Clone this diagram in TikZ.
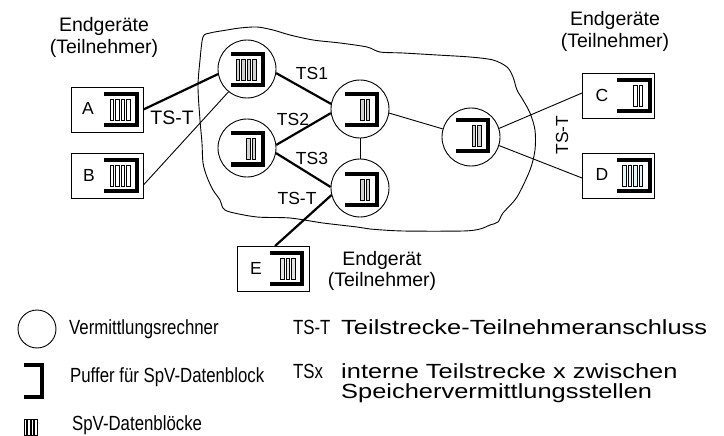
\documentclass[tikz,border=0pt]{standalone}
\usepackage{fontspec}
\setmainfont{Liberation Sans}
\begin{document}
\begin{tikzpicture}[x=1pt,y=-1pt,
  router/.style={circle,draw,line width=0.9pt,minimum size=58pt,inner sep=0pt},
  term/.style={rectangle,draw,line width=0.9pt,minimum width=72pt,minimum height=45pt,inner sep=0pt},
  lbl/.style={inner sep=0pt,font=\fontsize{17.5}{21}\selectfont},
  biglbl/.style={inner sep=0pt,font=\fontsize{19.5}{21.5}\selectfont},
  leglbl/.style={inner sep=0pt,anchor=west,xscale=0.82,font=\fontsize{20.5}{22}\selectfont},
  widelbl/.style={inner sep=0pt,anchor=west,xscale=1.24,font=\fontsize{20.5}{22}\selectfont},
  thicklink/.style={line width=2.2pt},
  thinlink/.style={line width=0.9pt},
  cloudline/.style={line width=0.9pt}]
\useasboundingbox (0,0) rectangle (724,436);
\newcommand\bufr[5]{% x y nbars barfill width
  \draw[line width=4pt,line cap=butt,line join=miter] (#1-#5/2,#2-15.5) -- (#1+#5/2,#2-15.5) -- (#1+#5/2,#2+15.5) -- (#1-#5/2,#2+15.5);
  \foreach \i in {1,...,#3}{\draw[line width=0.6pt,fill=#4] (#1+#5/2-7-\i*5.5+2,#2-10.5) rectangle ++(3.5,21);}
}
% cloud
\draw[cloudline] plot[smooth cycle,tension=0.5] coordinates {
 (203,37) (210,33) (227,30) (240,28) (257,27) (273,30) (290,35) (313,40) (340,43) (367,47)
 (380,52) (403,53) (437,55) (470,57) (493,60) (507,67) (513,77) (517,90) (523,100) (530,113)
 (535,130) (535,150) (530,170) (517,197) (503,213) (498,222) (490,225) (480,229) (463,231)
 (403,231) (370,229) (357,227) (323,223) (290,218) (257,217) (230,212) (223,208) (220,200)
 (213,190) (207,177) (203,163) (202,143) (200,120) (198,87) (200,60)};
% routers
\node[router] (r1) at (247,69) {};
\node[router] (r2) at (247,148) {};
\node[router] (r3) at (360,109) {};
\node[router] (r4) at (360,188) {};
\node[router] (r5) at (471,137) {};
% terminals
\node[term] (A) at (107,109.5) {};
\node[term] (B) at (107,175.5) {};
\node[term] (C) at (618.5,95.5) {};
\node[term] (D) at (618.5,175.5) {};
\node[term] (E) at (273.5,269) {};
\node[lbl] (la) at (88,108) {A};
\node[lbl] (lb) at (89,175) {B};
\node[lbl] (lc) at (602,95) {C};
\node[lbl] (ld) at (602,174) {D};
\node[lbl] (le) at (256,268) {E};
% buffers
\bufr{247}{70}{4}{gray!35}{32}
\bufr{246.5}{149}{2}{gray!35}{32}
\bufr{360.5}{109.5}{2}{gray!35}{32}
\bufr{360.5}{189.5}{2}{gray!35}{32}
\bufr{472}{135.5}{2}{gray!35}{32}
\bufr{120.5}{110}{4}{white}{33}
\bufr{120.5}{175.5}{4}{white}{33}
\bufr{633}{96}{2}{white}{33}
\bufr{633}{175.5}{4}{cyan!12}{33}
\bufr{286}{268.5}{3}{gray!20}{32}
% connectors
\draw[thicklink] (A.east) -- (r1.190);
\draw[thinlink] ([yshift=-9.5pt]B.east) -- (r1.231);
\draw[thicklink] (r1.352) -- (r3.170);
\draw[thicklink] (r2.6) -- (r3.188);
\draw[thicklink] (r2.350) -- (r4.178);
\draw[thinlink] (r3.south) -- (r4.north);
\draw[thicklink] (r4.194) -- ([xshift=1.5pt]E.north);
\draw[thinlink] (r3.352) -- (r5.164);
\draw[thinlink] (r5.17) -- ([yshift=2.5pt]C.west);
\draw[thinlink] (r5.343) -- ([yshift=-2.5pt]D.west);
% link labels
\node[biglbl] (tst1) at (172,118) {TS-T};
\node[lbl] (ts1) at (312,73) {TS1};
\node[lbl] (ts2) at (293,119) {TS2};
\node[lbl] (ts3) at (312,158) {TS3};
\node[lbl] (tst2) at (297,198) {TS-T};
\node[lbl,rotate=90] (tst3) at (562,135) {TS-T};
% group labels
\node[biglbl,align=center] (g1) at (104,37.5) {Endgeräte\\(Teilnehmer)};
\node[biglbl,align=center] (g2) at (615,31.5) {Endgeräte\\(Teilnehmer)};
\node[biglbl,align=center] (g3) at (382,271) {Endgerät\\(Teilnehmer)};
% legend
\node[circle,draw,line width=0.9pt,minimum size=38pt,inner sep=0pt] (legc) at (37,329) {};
\draw[line width=4pt,line cap=butt,line join=miter] (24,365) -- (42,365) -- (42,397) -- (24,397);
\foreach \i in {0,...,3}{\draw[line width=0.6pt,fill=white] (24+\i*3.5,419) rectangle ++(2.3,16);}
\node[leglbl] (t1) at (69,329) {Vermittlungsrechner};
\node[leglbl] (t2) at (70,377) {Puffer für SpV-Datenblock};
\node[leglbl] (t3) at (72,425) {SpV-Datenblöcke};
\node[leglbl] (t4) at (293,327) {TS-T};
\node[leglbl] (t5) at (293,371) {TSx};
\node[widelbl] (t6) at (341,327) {Teilstrecke-Teilnehmeranschluss};
\node[widelbl] (t7) at (341,371) {interne Teilstrecke x zwischen};
\node[widelbl] (t8) at (341,393) {Speichervermittlungsstellen};
\end{tikzpicture}
\end{document}
